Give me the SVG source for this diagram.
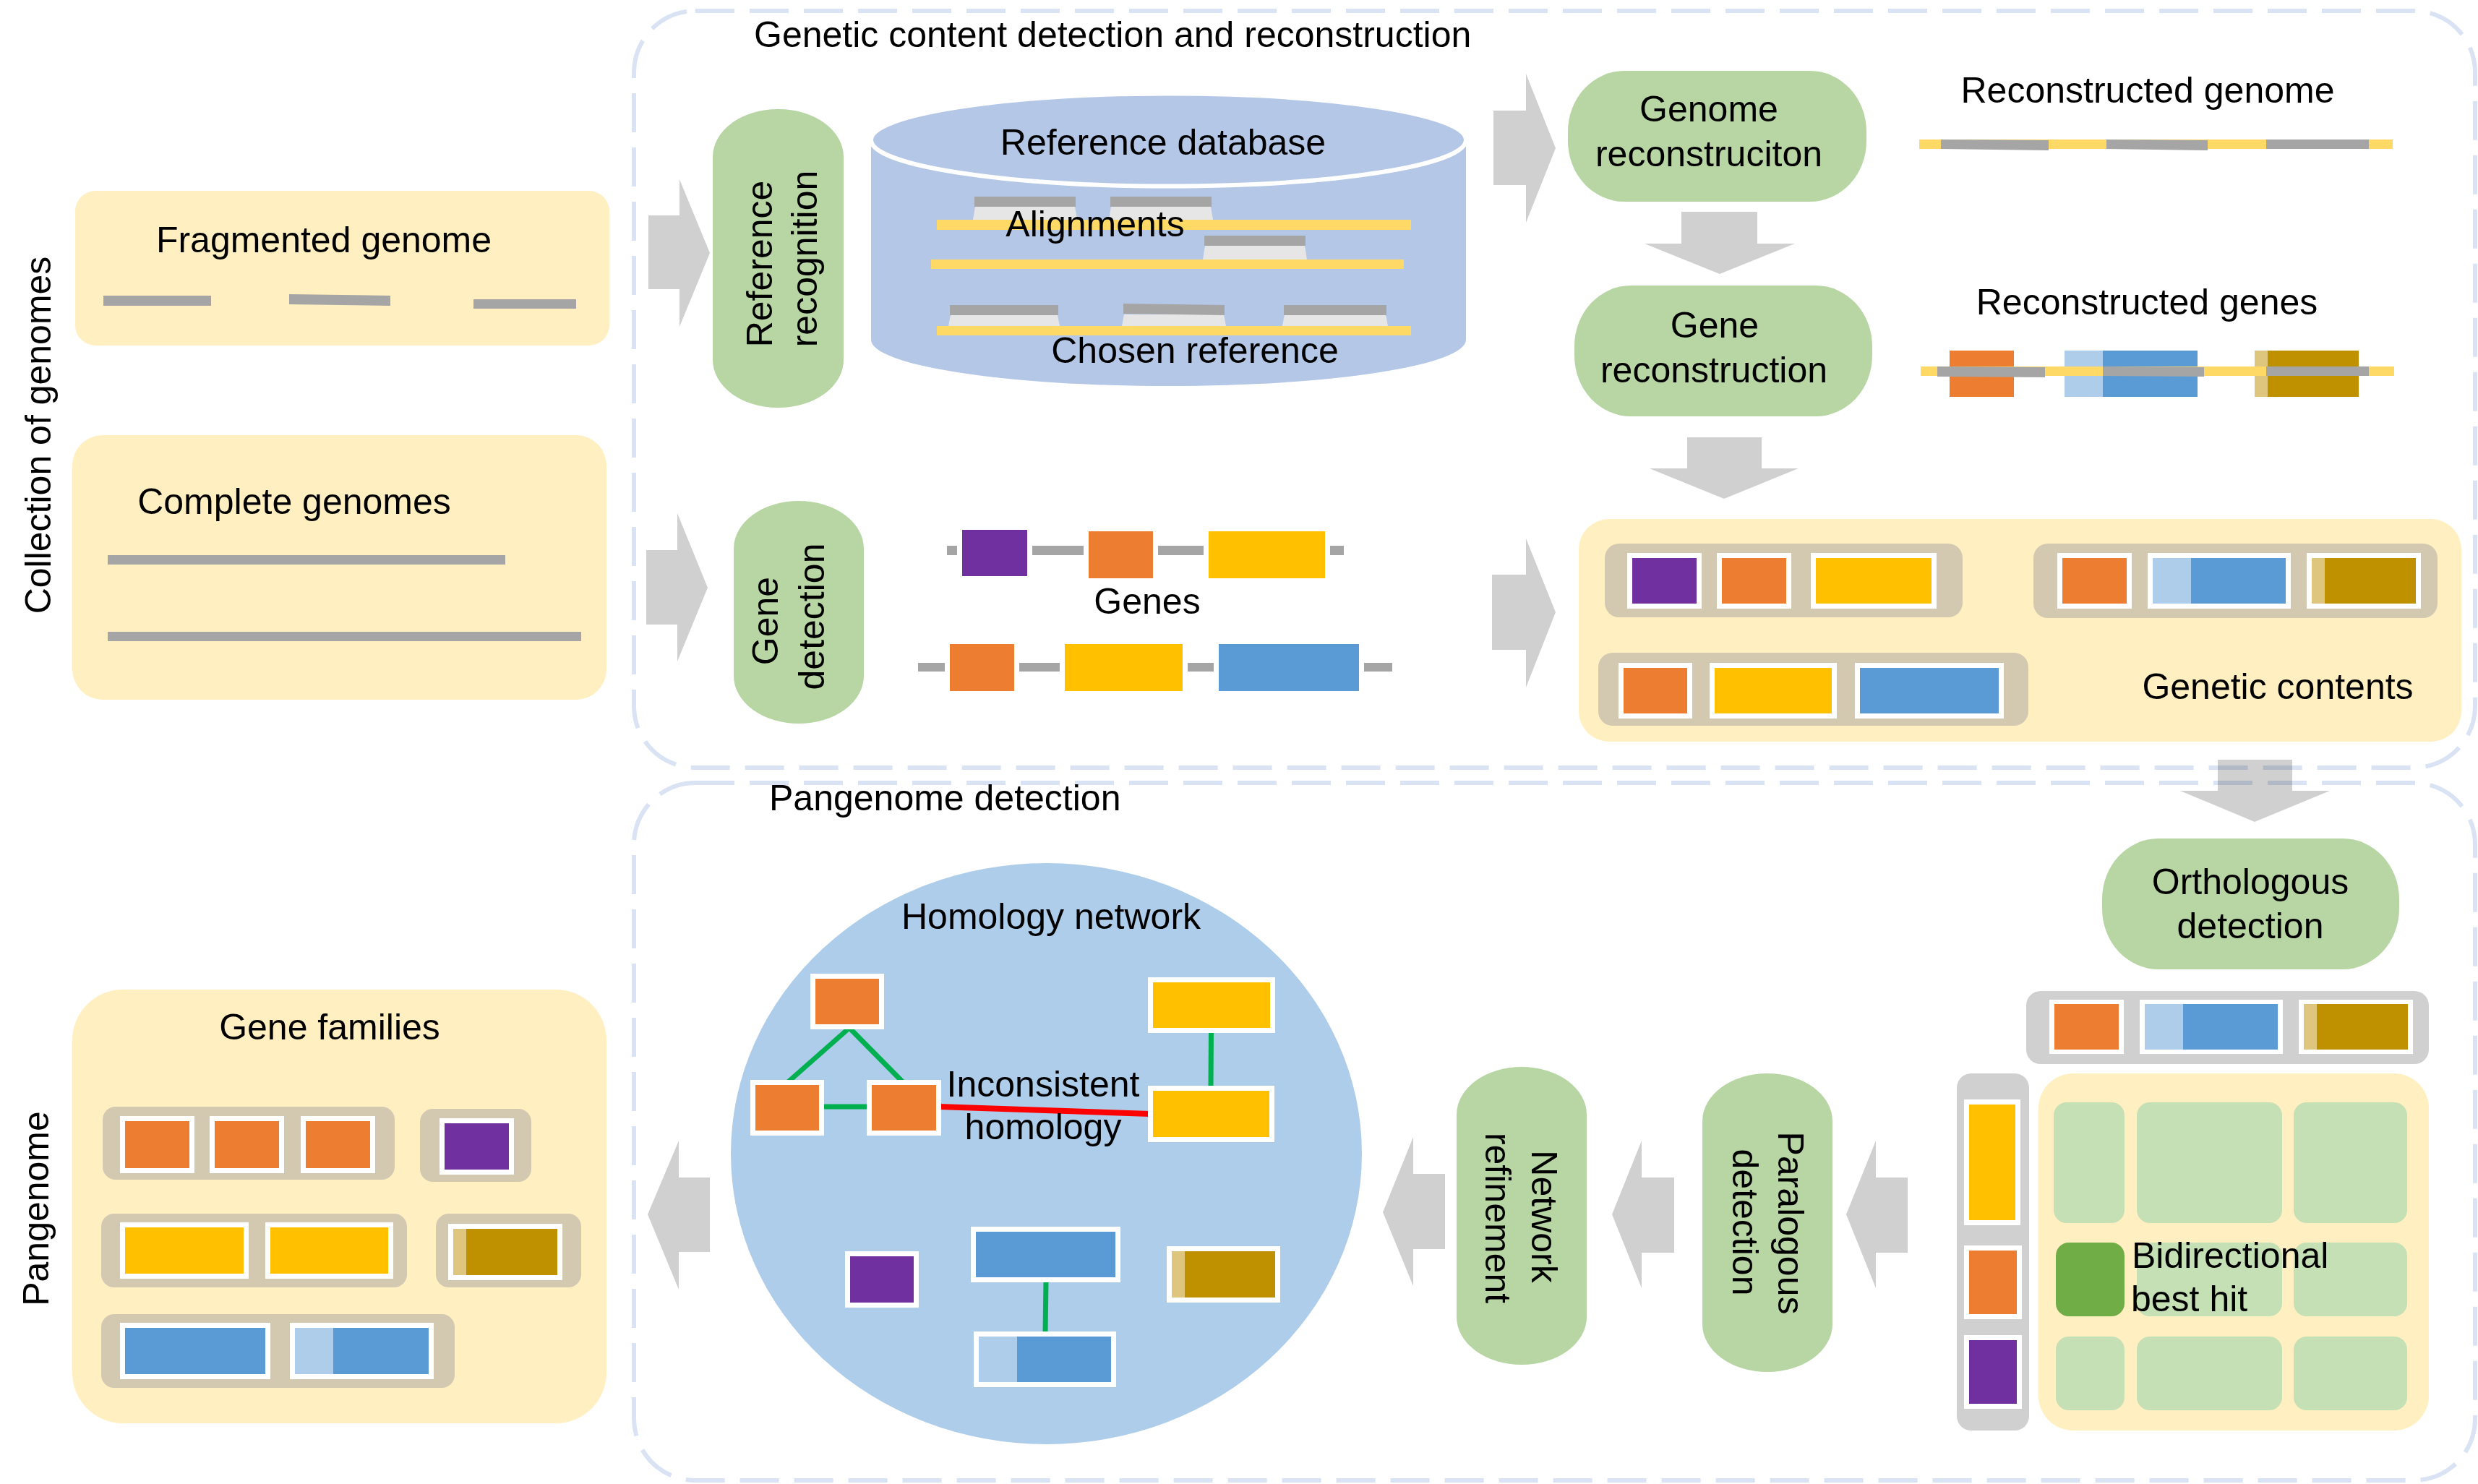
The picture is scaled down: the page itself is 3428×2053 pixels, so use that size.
<svg xmlns="http://www.w3.org/2000/svg" width="3428" height="2053" viewBox="0 0 3428 2053">
<style>
text{font-family:"Liberation Sans",Arial,sans-serif;font-size:50px;fill:#000}
.m{text-anchor:middle}
.panel{fill:#FFEFC1}
.pill{fill:#B8D6A4}
.arrow{fill:#D0D0D0}
.tan{fill:#D3C9B1}
.gry{fill:#D0D0D0}
.wb{fill:#FFFFFF}
.or{fill:#ED7D31}
.ye{fill:#FFC000}
.pu{fill:#7030A0}
.bl{fill:#5B9BD5}
.lb{fill:#AECDEA}
.go{fill:#BF9000}
.lg{fill:#DEC67E}
.bar{fill:#A5A5A5}
.yl{fill:#FFD966}
.tr{fill:#E7E6E6}
.cell{fill:#C5E0B4}
.dash{fill:none;stroke:#DAE3F3;stroke-width:6;stroke-dasharray:54 21;mix-blend-mode:multiply}
.g{stroke:#00B050;stroke-width:7;fill:none}
</style>

<g id="connectors">
<polygon class="arrow" points="897,298 940,298 940,248 982,350 940,452 940,400 897,400"/>
<polygon class="arrow" points="894,761 937,761 937,710 979,813 937,915 937,864 894,864"/>
<polygon class="arrow" points="2066,153 2111,153 2111,102 2152,205 2111,308 2111,256 2066,256"/>
<polygon class="arrow" points="2064,795 2111,795 2111,745 2152,847 2111,951 2111,899 2064,899"/>
<polygon class="arrow" points="2326,293 2431,293 2431,337 2483,337 2379,379 2275,337 2326,337"/>
<polygon class="arrow" points="2334,605 2437,605 2437,648 2488,648 2385,690 2282,648 2334,648"/>
<polygon class="arrow" points="3068,1051 3171,1051 3171,1094 3223,1094 3119,1137 3016,1094 3068,1094"/>
<polygon class="arrow" points="2639,1629 2595,1629 2595,1578 2554,1680 2595,1782 2595,1733 2639,1733"/>
<polygon class="arrow" points="2316,1629 2271,1629 2271,1578 2230,1680 2271,1782 2271,1733 2316,1733"/>
<polygon class="arrow" points="1999,1624 1955,1624 1955,1573 1913,1677 1955,1779 1955,1728 1999,1728"/>
<polygon class="arrow" points="982,1629 939,1629 939,1578 896,1680 939,1784 939,1732 982,1732"/>
</g>

<g id="frames">
<rect class="dash" x="877" y="15" width="2547" height="1047" rx="85"/>
<rect class="dash" x="877" y="1083" width="2547" height="965" rx="85"/>
<text x="1043" y="65">Genetic content detection and reconstruction</text>
<text x="1064" y="1121">Pangenome detection</text>
<text class="m" transform="translate(70,602) rotate(-90)">Collection of genomes</text>
<text class="m" transform="translate(67,1672) rotate(-90)">Pangenome</text>
</g>

<g id="fragmented-genome">
<rect class="panel" x="104" y="264" width="739" height="214" rx="28"/>
<text class="m" x="448" y="349">Fragmented genome</text>
<rect class="bar" x="143" y="409" width="149" height="14"/>
<polygon class="bar" points="400,407 540,409 540,423 400,421"/>
<rect class="bar" x="655" y="414" width="142" height="13"/>
</g>

<g id="complete-genomes">
<rect class="panel" x="100" y="602" width="739" height="366" rx="42"/>
<text class="m" x="407" y="711">Complete genomes</text>
<rect class="bar" x="149" y="768" width="550" height="13"/>
<rect class="bar" x="149" y="874" width="655" height="13"/>
</g>

<g id="reference-recognition">
<rect class="pill" x="986" y="151" width="181" height="413" rx="90" ry="66"/>
<text class="m" transform="translate(1068,365) rotate(-90)">Reference</text>
<text class="m" transform="translate(1130,358) rotate(-90)">recognition</text>
</g>

<g id="reference-database">
<path d="M1205,201 L1205,470 A411.5,64 0 0 0 2028,470 L2028,201 Z" fill="#B4C7E7"/>
<ellipse cx="1616.5" cy="193.5" rx="411.5" ry="64" fill="#B4C7E7" stroke="#FFFFFF" stroke-width="6"/>
<text class="m" x="1609" y="214">Reference database</text>
<polygon class="tr" points="1349,286 1487,286 1490,304 1346,304"/>
<polygon class="tr" points="1537,286 1675,286 1678,304 1534,304"/>
<polygon class="tr" points="1667,340 1805,340 1808,359 1664,359"/>
<polygon class="tr" points="1315,436 1463,436 1466,451 1312,451"/>
<polygon class="tr" points="1555,435 1693,435 1696,451 1552,451"/>
<polygon class="tr" points="1777,435 1917,435 1920,451 1774,451"/>
<rect class="bar" x="1348" y="272" width="140" height="14"/>
<rect class="bar" x="1536" y="272" width="140" height="14"/>
<rect class="bar" x="1666" y="326" width="140" height="14"/>
<rect class="bar" x="1314" y="422" width="150" height="14"/>
<polygon class="bar" points="1554,420 1694,422 1694,436 1554,434"/>
<rect class="bar" x="1776" y="422" width="142" height="14"/>
<rect class="yl" x="1296" y="304" width="656" height="14"/>
<rect class="yl" x="1288" y="359" width="654" height="13"/>
<rect class="yl" x="1296" y="451" width="656" height="13"/>
<text class="m" x="1515" y="327">Alignments</text>
<text class="m" x="1653" y="502">Chosen reference</text>
</g>

<g id="gene-detection">
<rect class="pill" x="1015" y="693" width="180" height="308" rx="90" ry="66"/>
<text class="m" transform="translate(1076,859) rotate(-90)">Gene</text>
<text class="m" transform="translate(1140,853) rotate(-90)">detection</text>
</g>

<g id="genes">
<rect class="bar" x="1310" y="755" width="14" height="13"/>
<rect class="pu" x="1331" y="733" width="90" height="64"/>
<rect class="bar" x="1428" y="755" width="71" height="13"/>
<rect class="or" x="1506" y="735" width="89" height="65"/>
<rect class="bar" x="1602" y="755" width="63" height="13"/>
<rect class="ye" x="1672" y="735" width="161" height="65"/>
<rect class="bar" x="1840" y="755" width="19" height="13"/>
<text class="m" x="1587" y="849">Genes</text>
<rect class="bar" x="1270" y="917" width="37" height="12"/>
<rect class="or" x="1314" y="891" width="89" height="65"/>
<rect class="bar" x="1410" y="917" width="56" height="12"/>
<rect class="ye" x="1473" y="891" width="163" height="65"/>
<rect class="bar" x="1643" y="917" width="36" height="12"/>
<rect class="bl" x="1686" y="891" width="194" height="65"/>
<rect class="bar" x="1887" y="917" width="39" height="12"/>
</g>

<g id="genome-reconstruction">
<rect class="pill" x="2169" y="98" width="413" height="181" rx="78" ry="84"/>
<text class="m" x="2364" y="168">Genome</text>
<text class="m" x="2364" y="230">reconstruciton</text>
</g>

<g id="reconstructed-genome">
<text class="m" x="2971" y="142">Reconstructed genome</text>
<rect class="yl" x="2655" y="193" width="655" height="13"/>
<polygon class="bar" points="2685,193 2834,194 2834,208 2685,206"/>
<polygon class="bar" points="2914,193 3054,194 3054,208 2914,206"/>
<rect class="bar" x="3135" y="193" width="142" height="13"/>
</g>

<g id="gene-reconstruction">
<rect class="pill" x="2178" y="395" width="412" height="181" rx="78" ry="84"/>
<text class="m" x="2372" y="467">Gene</text>
<text class="m" x="2371" y="529">reconstruction</text>
</g>

<g id="reconstructed-genes">
<text class="m" x="2970" y="435">Reconstructed genes</text>
<rect class="or" x="2697" y="485" width="89" height="64"/>
<rect class="lb" x="2856" y="485" width="53" height="64"/>
<rect class="bl" x="2909" y="485" width="131" height="64"/>
<rect class="lg" x="3119" y="485" width="18" height="64"/>
<rect class="go" x="3137" y="485" width="126" height="64"/>
<rect class="yl" x="2657" y="507" width="655" height="13"/>
<polygon class="bar" points="2680,507 2829,508 2829,522 2680,521"/>
<polygon class="bar" points="2909,507 3049,508 3049,521 2909,520"/>
<rect class="bar" x="3135" y="507" width="142" height="13"/>
</g>

<g id="genetic-contents">
<rect class="panel" x="2184" y="718" width="1221" height="308" rx="42"/>
<rect class="tan" x="2220" y="752" width="495" height="102" rx="20"/>
<rect class="wb" x="2251" y="765" width="103" height="77"/><rect class="pu" x="2258" y="772" width="89" height="63"/>
<rect class="wb" x="2375" y="765" width="103" height="77"/><rect class="or" x="2382" y="772" width="89" height="63"/>
<rect class="wb" x="2505" y="765" width="174" height="77"/><rect class="ye" x="2512" y="772" width="160" height="63"/>
<rect class="tan" x="2813" y="752" width="559" height="103" rx="20"/>
<rect class="wb" x="2846" y="765" width="103" height="77"/><rect class="or" x="2853" y="772" width="89" height="63"/>
<rect class="wb" x="2971" y="765" width="198" height="77"/><rect class="lb" x="2978" y="772" width="53" height="63"/><rect class="bl" x="3031" y="772" width="131" height="63"/>
<rect class="wb" x="3191" y="765" width="158" height="77"/><rect class="lg" x="3198" y="772" width="18" height="63"/><rect class="go" x="3216" y="772" width="126" height="63"/>
<rect class="tan" x="2211" y="903" width="595" height="101" rx="20"/>
<rect class="wb" x="2239" y="917" width="102" height="77"/><rect class="or" x="2246" y="924" width="88" height="63"/>
<rect class="wb" x="2365" y="917" width="176" height="77"/><rect class="ye" x="2372" y="924" width="162" height="63"/>
<rect class="wb" x="2566" y="917" width="206" height="77"/><rect class="bl" x="2573" y="924" width="192" height="63"/>
<text class="m" x="3151" y="967">Genetic contents</text>
</g>

<g id="orthologous-detection">
<rect class="pill" x="2908" y="1160" width="411" height="181" rx="78" ry="84"/>
<text class="m" x="3113" y="1237">Orthologous</text>
<text class="m" x="3113" y="1298">detection</text>
</g>

<g id="ortholog-row">
<rect class="gry" x="2803" y="1371" width="557" height="101" rx="20"/>
<rect class="wb" x="2835" y="1383" width="103" height="75"/><rect class="or" x="2842" y="1389" width="89" height="63"/>
<rect class="wb" x="2960" y="1383" width="198" height="75"/><rect class="lb" x="2967" y="1389" width="53" height="63"/><rect class="bl" x="3020" y="1389" width="131" height="63"/>
<rect class="wb" x="3180" y="1383" width="158" height="75"/><rect class="lg" x="3187" y="1389" width="18" height="63"/><rect class="go" x="3205" y="1389" width="126" height="63"/>
</g>

<g id="paralog-column">
<rect class="gry" x="2707" y="1485" width="100" height="494" rx="20"/>
<rect class="wb" x="2717" y="1521" width="78" height="174"/><rect class="ye" x="2724" y="1528" width="64" height="160"/>
<rect class="wb" x="2717" y="1723" width="80" height="102"/><rect class="or" x="2724" y="1730" width="66" height="88"/>
<rect class="wb" x="2717" y="1847" width="80" height="102"/><rect class="pu" x="2724" y="1854" width="66" height="88"/>
</g>

<g id="bidirectional-best-hit">
<rect class="panel" x="2820" y="1485" width="540" height="494" rx="48"/>
<rect class="cell" x="2841" y="1525" width="98" height="167" rx="18"/>
<rect class="cell" x="2956" y="1525" width="201" height="167" rx="18"/>
<rect class="cell" x="3173" y="1525" width="157" height="167" rx="18"/>
<rect fill="#70AD47" x="2844" y="1719" width="95" height="102" rx="18"/>
<rect class="cell" x="2956" y="1719" width="201" height="102" rx="18"/>
<rect class="cell" x="3173" y="1719" width="157" height="102" rx="18"/>
<rect class="cell" x="2844" y="1849" width="95" height="102" rx="18"/>
<rect class="cell" x="2956" y="1849" width="201" height="102" rx="18"/>
<rect class="cell" x="3173" y="1849" width="157" height="102" rx="18"/>
<text x="2949" y="1754">Bidirectional</text>
<text x="2948" y="1814">best hit</text>
</g>

<g id="paralogous-detection">
<rect class="pill" x="2355" y="1485" width="180" height="413" rx="90" ry="66"/>
<text class="m" transform="translate(2460,1692) rotate(90)">Paralogous</text>
<text class="m" transform="translate(2397,1691) rotate(90)">detection</text>
</g>

<g id="network-refinement">
<rect class="pill" x="2015" y="1476" width="180" height="412" rx="90" ry="66"/>
<text class="m" transform="translate(2119,1683) rotate(90)">Network</text>
<text class="m" transform="translate(2055,1685) rotate(90)">refinement</text>
</g>

<g id="homology-network">
<ellipse cx="1447.5" cy="1596" rx="436.5" ry="402" fill="#AECDEA"/>
<text class="m" x="1454" y="1285">Homology network</text>
<line class="g" x1="1175" y1="1422" x2="1090" y2="1497"/>
<line class="g" x1="1175" y1="1422" x2="1249" y2="1497"/>
<line class="g" x1="1137" y1="1531" x2="1202" y2="1531"/>
<line class="g" x1="1675.5" y1="1427" x2="1675" y2="1504"/>
<line class="g" x1="1447" y1="1772" x2="1446" y2="1845"/>
<line x1="1299" y1="1531" x2="1591" y2="1541" stroke="#FF0000" stroke-width="8"/>
<rect class="wb" x="1121" y="1347" width="102" height="77"/><rect class="or" x="1128" y="1354" width="88" height="63"/>
<rect class="wb" x="1038" y="1494" width="102" height="77"/><rect class="or" x="1045" y="1501" width="88" height="63"/>
<rect class="wb" x="1199" y="1494" width="103" height="77"/><rect class="or" x="1206" y="1501" width="89" height="63"/>
<rect class="wb" x="1588" y="1352" width="176" height="77"/><rect class="ye" x="1595" y="1359" width="162" height="63"/>
<rect class="wb" x="1588" y="1502" width="175" height="78"/><rect class="ye" x="1595" y="1509" width="161" height="64"/>
<rect class="wb" x="1169" y="1731" width="102" height="78"/><rect class="pu" x="1176" y="1738" width="88" height="64"/>
<rect class="wb" x="1343" y="1697" width="207" height="77"/><rect class="bl" x="1350" y="1704" width="193" height="63"/>
<rect class="wb" x="1347" y="1842" width="197" height="77"/><rect class="lb" x="1354" y="1849" width="53" height="63"/><rect class="bl" x="1407" y="1849" width="130" height="63"/>
<rect class="wb" x="1614" y="1724" width="157" height="78"/><rect class="lg" x="1621" y="1731" width="18" height="64"/><rect class="go" x="1639" y="1731" width="125" height="64"/>
<text class="m" x="1443" y="1517">Inconsistent</text>
<text class="m" x="1443" y="1576">homology</text>
</g>

<g id="gene-families">
<rect class="panel" x="100" y="1369" width="739" height="600" rx="70"/>
<text class="m" x="456" y="1438">Gene families</text>
<rect class="tan" x="142" y="1531" width="404" height="101" rx="18"/>
<rect class="wb" x="166" y="1544" width="103" height="79"/><rect class="or" x="173" y="1551" width="89" height="65"/>
<rect class="wb" x="290" y="1544" width="103" height="79"/><rect class="or" x="297" y="1551" width="89" height="65"/>
<rect class="wb" x="416" y="1544" width="103" height="79"/><rect class="or" x="423" y="1551" width="89" height="65"/>
<rect class="tan" x="581" y="1534" width="154" height="101" rx="18"/>
<rect class="wb" x="608" y="1547" width="103" height="78"/><rect class="pu" x="615" y="1554" width="89" height="64"/>
<rect class="tan" x="140" y="1679" width="423" height="102" rx="18"/>
<rect class="wb" x="166" y="1691" width="178" height="78"/><rect class="ye" x="173" y="1698" width="164" height="64"/>
<rect class="wb" x="367" y="1691" width="177" height="78"/><rect class="ye" x="374" y="1698" width="163" height="64"/>
<rect class="tan" x="603" y="1679" width="201" height="102" rx="18"/>
<rect class="wb" x="620" y="1693" width="158" height="78"/><rect class="lg" x="627" y="1700" width="18" height="64"/><rect class="go" x="645" y="1700" width="126" height="64"/>
<rect class="tan" x="140" y="1818" width="489" height="102" rx="18"/>
<rect class="wb" x="166" y="1830" width="208" height="78"/><rect class="bl" x="173" y="1837" width="194" height="64"/>
<rect class="wb" x="401" y="1830" width="199" height="78"/><rect class="lb" x="408" y="1837" width="53" height="64"/><rect class="bl" x="461" y="1837" width="132" height="64"/>
</g>
</svg>
